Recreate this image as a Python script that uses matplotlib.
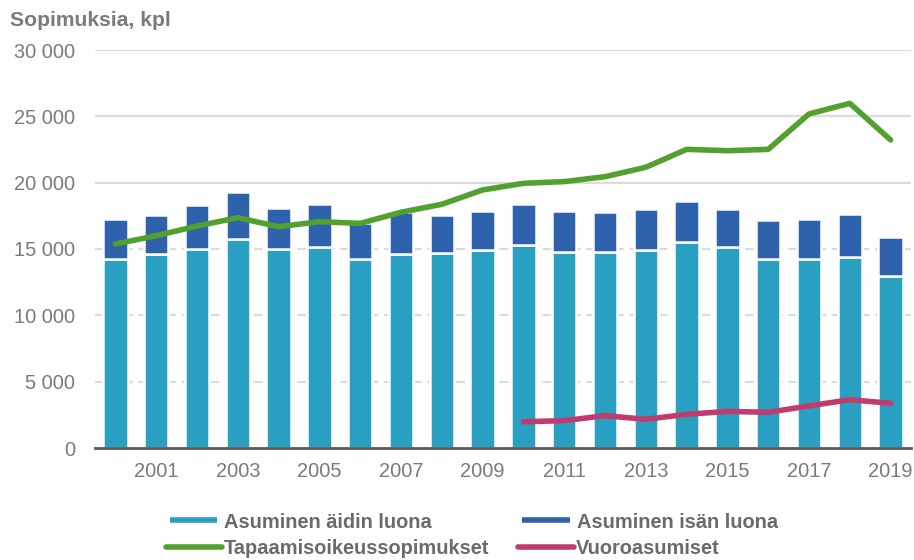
import matplotlib
matplotlib.use("Agg")
import matplotlib.pyplot as plt
from matplotlib.lines import Line2D
import numpy as np

plt.rcParams['font.family'] = ['Liberation Sans', 'DejaVu Sans']

years = list(range(2000, 2020))
mother = [14.25, 14.60, 14.98, 15.74, 15.01, 15.14, 14.22, 14.62, 14.68, 14.89,
          15.30, 14.80, 14.80, 14.95, 15.50, 15.14, 14.25, 14.25, 14.37, 12.94]
total = [17.24, 17.59, 18.29, 19.30, 18.07, 18.39, 16.96, 17.81, 17.59, 17.89,
         18.39, 17.86, 17.81, 18.01, 18.59, 18.01, 17.19, 17.26, 17.64, 15.90]
mother = [v * 1000 for v in mother]
father = [t * 1000 - m for t, m in zip(total, mother)]
visitation = [15.38, 16.00, 16.73, 17.36, 16.68, 17.06, 16.93, 17.77, 18.37, 19.45,
              19.95, 20.08, 20.45, 21.16, 22.51, 22.41, 22.51, 25.18, 25.98, 23.22]
visitation = [v * 1000 for v in visitation]
alt_years = list(range(2010, 2020))
alternating = [1.98, 2.06, 2.44, 2.16, 2.54, 2.76, 2.69, 3.17, 3.64, 3.37]
alternating = [v * 1000 for v in alternating]

yticks = [0, 5000, 10000, 15000, 20000, 25000, 30000]
ytick_labels = ["0", "5 000", "10 000", "15 000", "20 000", "25 000", "30 000"]
labels = ["Asuminen äidin luona", "Asuminen isän luona",
          "Tapaamisoikeussopimukset", "Vuoroasumiset"]
title = "Sopimuksia, kpl"

c_mother = "#29a0c2"
c_father = "#2e62ad"
c_green = "#52a02e"
c_pink = "#c03c6f"
c_text = "#7a7a7a"
c_leg = "#6a6a6a"

W, H = 914, 560
fig = plt.figure(figsize=(W / 100, H / 100), dpi=100)
ax = fig.add_axes([95 / W, 1 - 448 / H, (911 - 95) / W, (448 - 50) / H])

x = np.arange(len(years))
for t in yticks[1:]:
    if t <= 15000:
        ax.axhline(t, color="#dadbde", lw=1.6, ls=(0, (4, 2.5)), zorder=0)
    else:
        ax.axhline(t, color="#dadbde", lw=1.6, zorder=0)

w = 0.6
ax.bar(x, mother, width=w, color=c_mother, edgecolor="white", linewidth=1.8, zorder=2)
ax.bar(x, father, width=w, bottom=mother, color=c_father, edgecolor="white", linewidth=1.8, zorder=2)
ax.plot(x, visitation, color=c_green, lw=4, solid_capstyle="round", solid_joinstyle="round", zorder=3)
xa = [years.index(y) for y in alt_years]
ax.plot(xa, alternating, color=c_pink, lw=4, solid_capstyle="round", solid_joinstyle="round", zorder=3)

ax.set_xlim(-0.5, len(years) - 0.5)
ax.set_ylim(0, 30000)
ax.set_yticks(yticks)
ax.set_yticklabels(ytick_labels)
ax.set_xticks(x[1::2])
ax.set_xticklabels([str(y) for y in years[1::2]])
ax.tick_params(axis="both", length=0, labelsize=14.4, labelcolor=c_text)
ax.tick_params(axis="x", pad=10)
ax.tick_params(axis="y", pad=14.4)
for s in ["top", "right", "left"]:
    ax.spines[s].set_visible(False)
ax.spines["bottom"].set_color("#5a5a5a")
ax.spines["bottom"].set_linewidth(2)
ax.spines["bottom"].set_zorder(4)

fig.text(10 / W, 1 - 21 / H, title, fontsize=15.2, fontweight="bold", color=c_text,
         va="center", ha="left")

# legend, laid out as in the reference (two rows)
entries = [
    (c_mother, labels[0], 170, 217, 224, 520),
    (c_father, labels[1], 522, 570, 577, 520),
    (c_green, labels[2], 166, 222, 224, 547),
    (c_pink, labels[3], 518, 574, 576, 547),
]
for col, lab, x0, x1, tx, yc in entries:
    fig.add_artist(Line2D([x0 / W, x1 / W], [1 - yc / H, 1 - yc / H], color=col, lw=4,
                          solid_capstyle="round" if yc > 540 else "butt",
                          transform=fig.transFigure))
    fig.text(tx / W, 1 - yc / H, lab, fontsize=14.4, fontweight="bold", color=c_leg,
             va="center_baseline", ha="left")

fig.savefig("out.png", dpi=100)
